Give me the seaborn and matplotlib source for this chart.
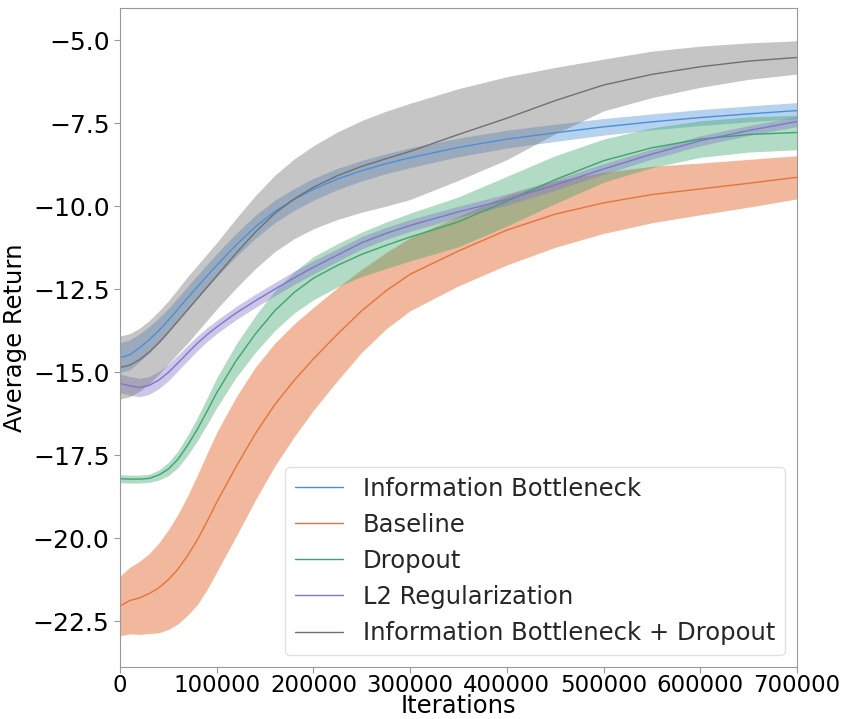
import matplotlib
matplotlib.use("Agg")
from matplotlib import pyplot as plt
import seaborn as sns
import pandas as pd

iterations = [0, 10000, 20000, 30000, 40000, 50000, 60000, 70000, 80000, 90000,
              100000, 120000, 140000, 160000, 180000, 200000, 225000, 250000,
              275000, 300000, 350000, 400000, 450000, 500000, 550000, 600000,
              650000, 700000]

# Mean returns
ib_mean = [-14.56, -14.48, -14.27, -14.03, -13.75, -13.44, -13.10, -12.76, -12.43, -12.10,
           -11.78, -11.17, -10.62, -10.16, -9.80, -9.49, -9.18, -8.93,
           -8.72, -8.54, -8.23, -7.98, -7.79, -7.61, -7.46, -7.33,
           -7.22, -7.12]
base_mean = [-22.04, -21.88, -21.80, -21.67, -21.50, -21.25, -20.93, -20.52, -20.05, -19.50,
             -18.92, -17.85, -16.85, -15.98, -15.25, -14.60, -13.85, -13.15,
             -12.55, -12.05, -11.35, -10.72, -10.24, -9.90, -9.65, -9.48,
             -9.31, -9.13]
drop_mean = [-18.21, -18.22, -18.22, -18.20, -18.10, -17.92, -17.62, -17.20, -16.72, -16.18,
             -15.62, -14.66, -13.85, -13.15, -12.60, -12.17, -11.78, -11.45,
             -11.18, -10.93, -10.47, -9.85, -9.20, -8.63, -8.24, -7.98,
             -7.84, -7.78]
l2_mean = [-15.34, -15.41, -15.46, -15.40, -15.24, -15.01, -14.72, -14.42, -14.13, -13.87,
           -13.64, -13.22, -12.85, -12.50, -12.16, -11.84, -11.47, -11.10,
           -10.82, -10.58, -10.17, -9.80, -9.36, -8.88, -8.43, -8.03,
           -7.72, -7.45]
ibdrop_mean = [-14.86, -14.79, -14.63, -14.40, -14.12, -13.80, -13.46, -13.12, -12.78, -12.44,
               -12.10, -11.42, -10.78, -10.22, -9.78, -9.43, -9.08, -8.80,
               -8.57, -8.35, -7.84, -7.35, -6.82, -6.35, -6.03, -5.80,
               -5.63, -5.52]

# Half widths of the shaded bands
ib_band = [0.45, 0.45, 0.42, 0.40, 0.38, 0.36, 0.35, 0.35, 0.35, 0.35,
           0.35, 0.35, 0.35, 0.34, 0.33, 0.33, 0.32, 0.31,
           0.30, 0.30, 0.28, 0.27, 0.26, 0.25, 0.24, 0.24,
           0.24, 0.24]
base_band = [0.90, 1.00, 1.10, 1.20, 1.35, 1.50, 1.65, 1.80, 1.95, 2.05,
             2.10, 2.10, 2.00, 1.85, 1.70, 1.55, 1.40, 1.25,
             1.15, 1.10, 1.05, 1.05, 1.00, 0.92, 0.85, 0.78,
             0.72, 0.65]
drop_band = [0.12, 0.12, 0.12, 0.12, 0.15, 0.20, 0.25, 0.30, 0.35, 0.40,
             0.45, 0.50, 0.55, 0.60, 0.62, 0.65, 0.65, 0.67,
             0.70, 0.72, 0.75, 0.75, 0.72, 0.65, 0.60, 0.55,
             0.53, 0.52]
l2_band = [0.28, 0.28, 0.28, 0.27, 0.26, 0.25, 0.24, 0.23, 0.22, 0.21,
           0.20, 0.20, 0.20, 0.20, 0.20, 0.20, 0.19, 0.19,
           0.18, 0.18, 0.17, 0.17, 0.16, 0.16, 0.15, 0.15,
           0.15, 0.15]
ibdrop_band = [0.95, 0.95, 0.95, 0.95, 0.95, 0.95, 0.97, 1.00, 1.00, 1.00,
               1.00, 1.05, 1.10, 1.15, 1.20, 1.25, 1.32, 1.38,
               1.43, 1.45, 1.38, 1.25, 1.00, 0.78, 0.70, 0.62,
               0.55, 0.50]

labels = ["Information Bottleneck", "Baseline", "Dropout", "L2 Regularization",
          "Information Bottleneck + Dropout"]
colors = ["#4a90d9", "#e5733d", "#3da56c", "#8075c8", "#707070"]
means = [ib_mean, base_mean, drop_mean, l2_mean, ibdrop_mean]
bands = [ib_band, base_band, drop_band, l2_band, ibdrop_band]

rows = []
for lab, m, b in zip(labels, means, bands):
    for it, v, h in zip(iterations, m, b):
        rows.append({"Iterations": it, "Average Return": v, "half": h, "method": lab})
df = pd.DataFrame(rows)

sns.set_style("white", {"axes.edgecolor": "0.6", "xtick.bottom": True, "ytick.left": True})
plt.rcParams["font.family"] = ["DejaVu Sans"]

fig = plt.figure(figsize=(8.43, 7.19), dpi=100)
ax = fig.add_axes([0.1423, 0.0723, 0.8031, 0.9166])

palette = dict(zip(labels, colors))
sns.lineplot(data=df, x="Iterations", y="Average Return", hue="method",
             hue_order=labels, palette=palette, linewidth=1.0, ax=ax)

# shaded spread around each mean
alphas = [0.4, 0.5, 0.4, 0.4, 0.4]
for lab, a in zip(labels, alphas):
    d = df[df["method"] == lab]
    ax.fill_between(d["Iterations"], d["Average Return"] - d["half"],
                    d["Average Return"] + d["half"], color=palette[lab],
                    alpha=a, linewidth=0)

ax.set_xlim(0, 700000)
ax.set_ylim(-23.88, -4.03)
ax.set_yticks([-22.5, -20.0, -17.5, -15.0, -12.5, -10.0, -7.5, -5.0])
ax.set_xticks([0, 100000, 200000, 300000, 400000, 500000, 600000, 700000])
ax.ticklabel_format(axis="x", style="plain")
ax.tick_params(axis="y", labelsize=18, length=4, color="0.6")
ax.tick_params(axis="x", labelsize=16.5, length=4, color="0.6", pad=1)
for lbl in ax.get_yticklabels() + ax.get_xticklabels():
    lbl.set_color("black")
ax.set_xlabel("Iterations", fontsize=17.5, labelpad=-2, color="black")
ax.set_ylabel("Average Return", fontsize=17.5, labelpad=4, color="black")

leg = ax.legend(loc="lower right", fontsize=17.5, frameon=True, fancybox=True)
leg.get_frame().set_edgecolor("0.85")
for line in leg.get_lines():
    line.set_linewidth(1.0)

plt.savefig("out.png", dpi=100)
